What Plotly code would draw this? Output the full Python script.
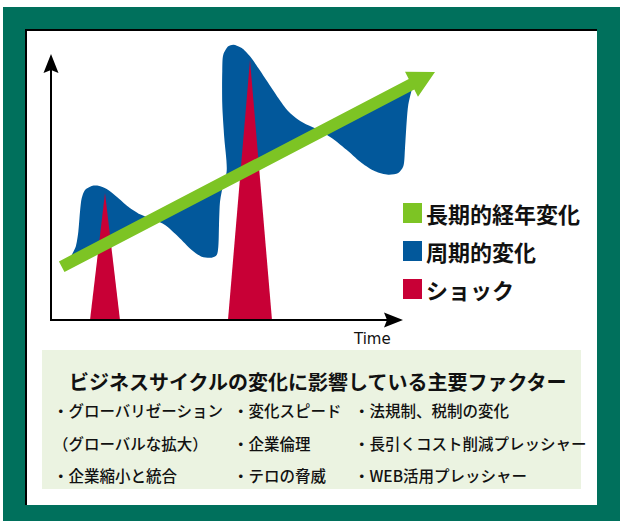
import math
import plotly.graph_objects as go

# ---------------- data ----------------
axis_label = "Time"
axis_t_max = 100.0      # time axis length (arbitrary units)
axis_v_max = 100.4      # value axis length

# long-term secular trend (start / end of arrow)
trend_t = [3.04, 109.09]
trend_v = [20.11, 93.58]

# cyclical change: outline of the cycle band around the trend
cycle_t = [4.91, 5.88, 7.02, 7.76, 8.24, 8.72, 9.66, 11.56, 13.44, 15.82, 18.66, 21.96,
           25.28, 28.13, 29.55, 32.39, 36.16, 39.97, 42.81, 45.65, 47.07, 47.53, 47.73,
           48.01, 48.49, 49.91, 49.23, 48.66, 48.66, 48.95, 50.37, 51.79, 54.18, 56.53,
           58.89, 61.73, 64.57, 67.41, 70.26, 73.10, 75.94, 79.74, 84.46, 88.27, 92.05,
           95.82, 98.66, 100.09, 100.57, 101.05, 101.50, 102.47]
cycle_v = [21.43, 24.53, 27.66, 33.32, 40.87, 45.92, 49.06, 50.57, 50.68, 49.43, 46.53, 42.75,
           39.89, 38.38, 37.74, 35.85, 31.43, 26.42, 23.89, 23.51, 24.53, 27.66, 35.85,
           44.64, 48.42, 56.23, 68.68, 81.25, 93.96, 100.11, 103.28, 103.89, 102.64, 99.51,
           95.09, 89.43, 83.77, 78.75, 75.58, 73.47, 71.81, 68.68, 63.66, 59.25, 56.11,
           54.83, 55.47, 58.00, 64.91, 74.98, 81.25, 86.79]

# shocks
shock_t = [15.34, 56.53]
shock_peak = [47.9, 98.1]
shock_half_base = [4.26, 6.25]

legend_labels = ["長期的経年変化", "周期的変化", "ショック"]

factor_title = "ビジネスサイクルの変化に影響している主要ファクター"
factor_rows = [
    ["・グローバリゼーション", "・変化スピード", "・法規制、税制の変化"],
    ["（グローバルな拡大）", "・企業倫理", "・長引くコスト削減プレッシャー"],
    ["・企業縮小と統合", "・テロの脅威", "・WEB活用プレッシャー"],
]

# ---------------- styles / layout ----------------
W, H = 622, 522
X0, SX = 51.0, 3.52     # pixel x of t=0, pixels per time unit
Y0, SY = 320.0, 2.65    # pixel y of v=0, pixels per value unit

C_FRAME = "#00705C"
C_TREND = "#7DC424"
C_CYCLE = "#02589B"
C_SHOCK = "#C80036"
C_BOX = "#EBF3E1"
FONT = "Noto Sans CJK JP"


def tp(t):
    return X0 + SX * t


def vp(v):
    return Y0 - SY * v


def pt(px):
    return (px - X0) / SX


def pv(py):
    return (Y0 - py) / SY


def trend_at(t):
    return trend_v[0] + (trend_v[1] - trend_v[0]) * (t - trend_t[0]) / (trend_t[1] - trend_t[0])


def arrow_polygon(p_start, p_tip, shaft_half, head_len, head_half, notch=0.0):
    x1, y1 = p_start
    x2, y2 = p_tip
    L = math.hypot(x2 - x1, y2 - y1)
    ux, uy = (x2 - x1) / L, (y2 - y1) / L
    nx, ny = -uy, ux
    bx, by = x2 - head_len * ux, y2 - head_len * uy
    pts = []
    if shaft_half > 0:
        pts += [(x1 + shaft_half * nx, y1 + shaft_half * ny),
                (bx + notch * ux + shaft_half * nx, by + notch * uy + shaft_half * ny)]
    pts += [(bx + head_half * nx, by + head_half * ny), (x2, y2),
            (bx - head_half * nx, by - head_half * ny)]
    if shaft_half > 0:
        pts += [(bx + notch * ux - shaft_half * nx, by + notch * uy - shaft_half * ny),
                (x1 - shaft_half * nx, y1 - shaft_half * ny)]
    else:
        pts += [(bx + notch * ux, by + notch * uy)]
    pts.append(pts[0])
    return [pt(p[0]) for p in pts], [pv(p[1]) for p in pts]


fig = go.Figure()

# cyclical band: filled between trend and cycle outline
fig.add_trace(go.Scatter(x=[cycle_t[0], cycle_t[-1]],
                         y=[trend_at(cycle_t[0]), trend_at(cycle_t[-1])],
                         mode="lines", line=dict(width=0, color=C_CYCLE),
                         hoverinfo="skip", showlegend=False))
fig.add_trace(go.Scatter(x=cycle_t, y=cycle_v, mode="lines",
                         line=dict(width=0, color=C_CYCLE, shape="spline", smoothing=0.8),
                         fill="tonexty", fillcolor=C_CYCLE,
                         hoverinfo="skip", showlegend=False))

# shocks
for t, h, hb in zip(shock_t, shock_peak, shock_half_base):
    fig.add_trace(go.Scatter(x=[t - hb, t, t + hb, t - hb], y=[0, h, 0, 0],
                             mode="lines", line=dict(width=0, color=C_SHOCK),
                             fill="toself", fillcolor=C_SHOCK,
                             hoverinfo="skip", showlegend=False))

# trend arrow
ax_, ay_ = arrow_polygon((tp(trend_t[0]), vp(trend_v[0])), (tp(trend_t[1]), vp(trend_v[1])),
                         6.0, 26.5, 14.0)
fig.add_trace(go.Scatter(x=ax_, y=ay_, mode="lines", line=dict(width=0, color=C_TREND),
                         fill="toself", fillcolor=C_TREND, hoverinfo="skip", showlegend=False))

# axes
fig.add_trace(go.Scatter(x=[0, 0, axis_t_max - 3], y=[axis_v_max - 4, 0, 0], mode="lines",
                         line=dict(width=2, color="black"), hoverinfo="skip", showlegend=False))
for tip, start in [((tp(0), vp(axis_v_max)), (tp(0), vp(0))),
                   ((tp(axis_t_max), vp(0)), (tp(0), vp(0)))]:
    hx, hy = arrow_polygon(start, tip, 0, 19.0, 7.5, notch=3.0)
    fig.add_trace(go.Scatter(x=hx, y=hy, mode="lines", line=dict(width=0, color="black"),
                             fill="toself", fillcolor="black", hoverinfo="skip", showlegend=False))


def px2paper(x, y):
    return x / W, 1 - y / H


shapes = []


def rect(x0, y0, x1, y1, color):
    a = px2paper(x0, y0)
    b = px2paper(x1, y1)
    shapes.append(dict(type="rect", xref="paper", yref="paper", x0=a[0], y0=b[1], x1=b[0], y1=a[1],
                       fillcolor=color, line=dict(width=0), layer="below"))


rect(3, 7, 620, 521, C_FRAME)
rect(25, 29, 597, 505, "black")
rect(27, 31, 597, 505, "white")
rect(42, 350, 581, 489, C_BOX)

annotations = []


def text(x, y, s, size, weight=400, anchor="left", family=FONT, color="#111111"):
    px, py = px2paper(x, y)
    annotations.append(dict(xref="paper", yref="paper", x=px, y=py, text=s, showarrow=False,
                            xanchor=anchor, yanchor="middle",
                            font=dict(family=family, size=size, color=color, weight=weight)))


# legend
leg_colors = [C_TREND, C_CYCLE, C_SHOCK]
leg_y = [213, 251, 289]
for lab, col, yy in zip(legend_labels, leg_colors, leg_y):
    rect(403, yy - 10, 422, yy + 10, col)
    text(424, yy, lab, 22, weight=700)

text(372, 339, axis_label, 15, anchor="center", family="DejaVu Sans")

# factor box
text(318, 381, factor_title, 20, weight=700, anchor="center")
col_x = [51, 231, 352]
row_y = [410, 443, 475]
for row, yy in zip(factor_rows, row_y):
    for s, xx in zip(row, col_x):
        text(xx, yy, s, 15.5, weight=500)

fig.update_layout(
    width=W, height=H, margin=dict(l=0, r=0, t=0, b=0),
    paper_bgcolor="white", plot_bgcolor="rgba(0,0,0,0)",
    xaxis=dict(range=[pt(0), pt(W)], visible=False, fixedrange=True),
    yaxis=dict(range=[pv(H), pv(0)], visible=False, fixedrange=True),
    shapes=shapes, annotations=annotations, showlegend=False, hovermode=False,
)

fig.write_html("out.html", config={"displayModeBar": False, "staticPlot": True},
               post_script="document.body.style.margin='0';")
